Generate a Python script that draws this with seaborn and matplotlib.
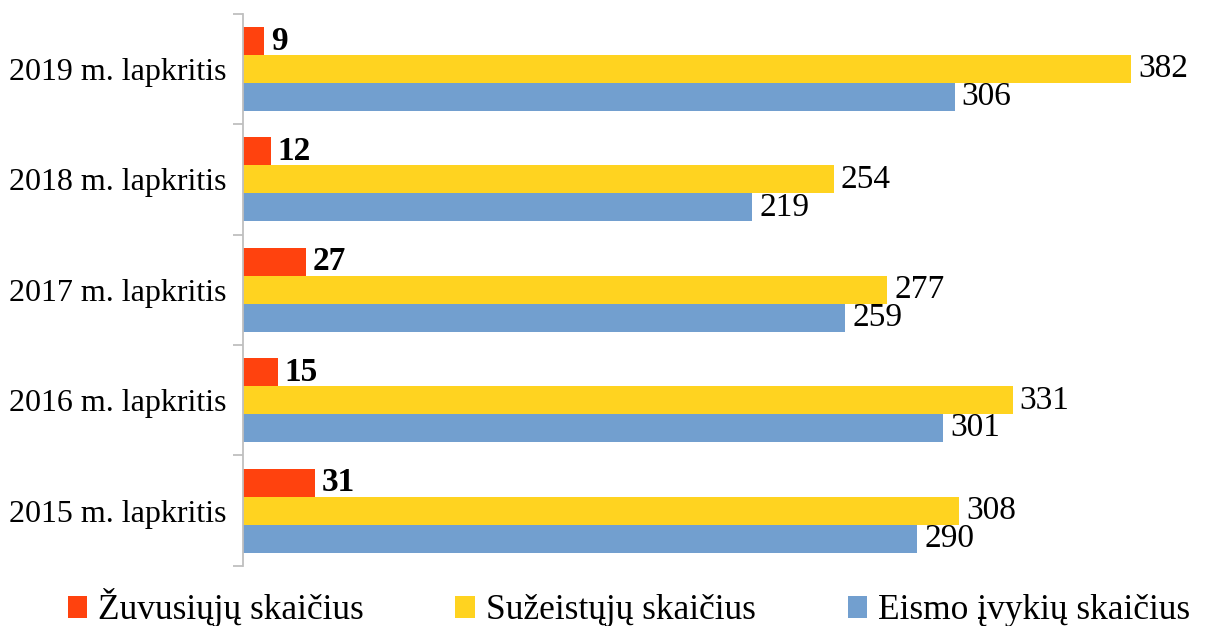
import pandas as pd
import matplotlib.pyplot as plt
import seaborn as sns

# Data
months = ["2019 m. lapkritis", "2018 m. lapkritis", "2017 m. lapkritis",
          "2016 m. lapkritis", "2015 m. lapkritis"]
series = ["Žuvusiųjų skaičius", "Sužeistųjų skaičius", "Eismo įvykių skaičius"]
killed = [9, 12, 27, 15, 31]
injured = [382, 254, 277, 331, 308]
accidents = [306, 219, 259, 301, 290]
colors = ["#FF420E", "#FFD320", "#729FCF"]

rows = []
for name, vals in zip(series, [killed, injured, accidents]):
    for m, v in zip(months, vals):
        rows.append({"month": m, "series": name, "value": v})
df = pd.DataFrame(rows)

sns.set_style("white")
plt.rcParams["font.family"] = ["Liberation Serif", "DejaVu Serif"]
plt.rcParams["text.color"] = "black"
plt.rcParams["ytick.labelcolor"] = "black"

fig = plt.figure(figsize=(12.07, 6.26), dpi=100)
ax = fig.add_axes([0.2013, 0.096, 0.79, 0.882])

sns.barplot(data=df, y="month", x="value", hue="series", order=months,
            hue_order=series, palette=colors, orient="h", width=0.76,
            saturation=1, gap=0, linewidth=0, ax=ax)

# value labels
for i, cont in enumerate(ax.containers):
    bold = "bold" if i == 0 else "normal"
    ax.bar_label(cont, padding=5, fontsize=24, fontweight=bold, color="black")

ax.set_xlim(0, 410)
ax.set_ylim(4.5, -0.5)
ax.set_xlabel("")
ax.set_ylabel("")
ax.set_xticks([])
ax.tick_params(axis="y", which="major", length=0, labelsize=23, pad=12)
ax.set_yticks([i - 0.5 for i in range(6)], minor=True)
ax.tick_params(axis="y", which="minor", left=True, length=7,
               color="#BFBFBF", width=1.3)
for s in ["top", "right", "bottom"]:
    ax.spines[s].set_visible(False)
ax.spines["left"].set_color("#BFBFBF")
ax.spines["left"].set_linewidth(1.3)

ax.legend(loc="center left", bbox_to_anchor=(-0.184, -0.076), ncol=3,
          frameon=False, fontsize=25.5, handlelength=0.55, handleheight=0.55,
          handletextpad=0.3, columnspacing=2.6, borderpad=0, borderaxespad=0)

plt.savefig("out.png", dpi=100)
